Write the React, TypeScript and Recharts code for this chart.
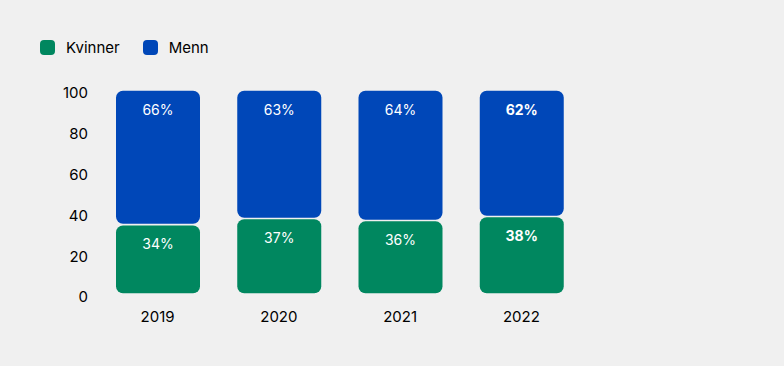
import React from "react";
import { BarChart, Bar, XAxis, YAxis, LabelList } from "recharts";

const years = ["2019", "2020", "2021", "2022"];
const kvinner = [34, 37, 36, 38];
const menn = [66, 63, 64, 62];
const boldYears = ["2022"];
const yTicks = [0, 20, 40, 60, 80, 100];

const GREEN = "#00875F";
const BLUE = "#0047B8";
const BG = "#F0F0F0";
const FONT = "Inter, 'Noto Sans', sans-serif";

const data = years.map((y, i) => ({ year: y, Kvinner: kvinner[i], Menn: menn[i] }));

const RoundedSeg = (props: any) => {
  const { x, y, width, height, fill } = props;
  if (!height || height <= 0) return null;
  const inset = 0.8;
  return (
    <rect
      x={x}
      y={y + inset}
      width={width}
      height={Math.max(0, height - inset * 2)}
      rx={7}
      ry={7}
      fill={fill}
    />
  );
};

const makeLabel = (key: string) => (props: any) => {
  const { x, y, width, value, index } = props;
  const bold = boldYears.includes(years[index]);
  return (
    <text
      x={x + width / 2}
      y={y + 19}
      textAnchor="middle"
      dominantBaseline="central"
      fill="#ffffff"
      fontSize={14}
      fontWeight={bold ? 700 : 400}
      fontFamily={FONT}
      key={key + index}
    >
      {value}%
    </text>
  );
};

const legendItems = [
  { name: "Kvinner", color: GREEN },
  { name: "Menn", color: BLUE },
];

export default function App() {
  return (
    <div
      style={{
        position: "absolute",
        left: 0,
        top: 0,
        width: 784,
        height: 366,
        background: BG,
        fontFamily: FONT,
      }}
    >
      <div style={{ position: "absolute", left: 40, top: 40, display: "flex", alignItems: "center" }}>
        {legendItems.map((it) => (
          <div key={it.name} style={{ display: "flex", alignItems: "center", marginRight: 23 }}>
            <div style={{ width: 15, height: 15, borderRadius: 4, background: it.color, marginRight: 11 }} />
            <span style={{ fontSize: 15, color: "#000", lineHeight: "15px" }}>{it.name}</span>
          </div>
        ))}
      </div>
      <BarChart
        width={784}
        height={366}
        data={data}
        margin={{ top: 90, right: 202, bottom: 42, left: 37 }}
        barSize={84}
      >
        <XAxis
          dataKey="year"
          axisLine={false}
          tickLine={false}
          tickSize={0}
          tickMargin={17}
          height={30}
          tick={{ fill: "#000", fontSize: 15, fontFamily: FONT }}
        />
        <YAxis
          type="number"
          domain={[0, 100]}
          ticks={yTicks}
          axisLine={false}
          tickLine={false}
          tickSize={0}
          tickMargin={9}
          width={60}
          tick={{ fill: "#000", fontSize: 15, fontFamily: FONT, dy: 3 }}
        />
        <Bar dataKey="Kvinner" stackId="a" fill={GREEN} shape={RoundedSeg} isAnimationActive={false}>
          <LabelList dataKey="Kvinner" content={makeLabel("k")} />
        </Bar>
        <Bar dataKey="Menn" stackId="a" fill={BLUE} shape={RoundedSeg} isAnimationActive={false}>
          <LabelList dataKey="Menn" content={makeLabel("m")} />
        </Bar>
      </BarChart>
    </div>
  );
}
